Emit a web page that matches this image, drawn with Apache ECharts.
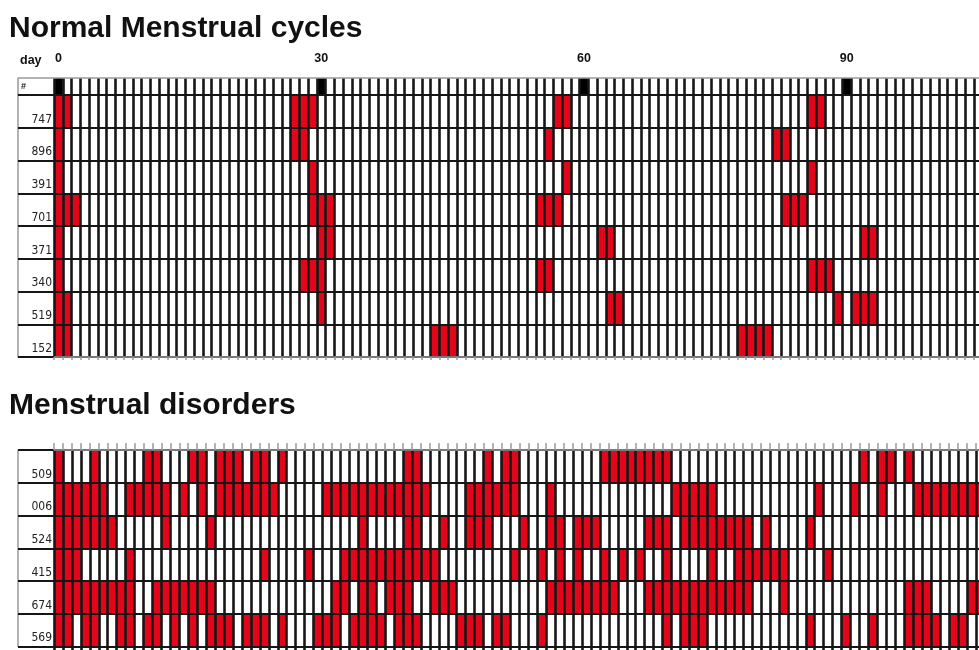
<!DOCTYPE html>
<html>
<head>
<meta charset="utf-8">
<script src="https://cdn.jsdelivr.net/npm/echarts@6/dist/echarts.min.js"></script>
<style>
  html, body { margin: 0; padding: 0; background: #fff; }
  #chart { width: 979px; height: 650px; }
</style>
</head>
<body>
<div id="chart"></div>
<script>
// Days shown on the horizontal axis and the labelled cycle days
const dayCount = 110;
const dayTicks = [0, 30, 60, 90];
const cycleMarkers = [0, 30, 60, 90];

// Normal menstrual cycles: bleeding days per subject
const normalIds = ['747', '896', '391', '701', '371', '340', '519', '152'];
const normal747 = [0, 1, 27, 28, 29, 57, 58, 86, 87];
const normal896 = [0, 27, 28, 56, 82, 83];
const normal391 = [0, 29, 58, 86];
const normal701 = [0, 1, 2, 29, 30, 31, 55, 56, 57, 83, 84, 85];
const normal371 = [0, 30, 31, 62, 63, 92, 93];
const normal340 = [0, 28, 29, 30, 55, 56, 86, 87, 88];
const normal519 = [0, 1, 30, 63, 64, 89, 91, 92, 93];
const normal152 = [0, 1, 43, 44, 45, 78, 79, 80, 81];
const normalDays = [normal747, normal896, normal391, normal701, normal371, normal340, normal519, normal152];

// Menstrual disorders: bleeding days per subject
const disorderIds = ['509', '006', '524', '415', '674', '569'];
const disorder509 = [0, 4, 10, 11, 15, 16, 18, 19, 20, 22, 23, 25, 39, 40, 48, 50, 51, 61, 62, 63, 64, 65, 66, 67, 68, 90, 92, 93, 95];
const disorder006 = [0, 1, 2, 3, 4, 5, 8, 9, 10, 11, 12, 14, 16, 18, 19, 20, 21, 22, 23, 24, 30, 31, 32, 33, 34, 35, 36, 37, 38, 39, 40, 41, 46, 47, 48, 49, 50, 51, 55, 69, 70, 71, 72, 73, 85, 89, 92, 96, 97, 98, 99, 100, 101, 102, 103];
const disorder524 = [0, 1, 2, 3, 4, 5, 6, 12, 17, 34, 39, 40, 43, 46, 47, 48, 52, 55, 56, 58, 59, 60, 66, 67, 68, 70, 71, 72, 73, 74, 75, 76, 77, 79, 84];
const disorder415 = [0, 1, 2, 8, 23, 28, 32, 33, 34, 35, 36, 37, 38, 39, 40, 41, 42, 51, 54, 56, 58, 61, 63, 65, 68, 73, 76, 77, 78, 79, 80, 81, 86];
const disorder674 = [0, 1, 2, 3, 4, 5, 6, 7, 8, 11, 12, 13, 14, 15, 16, 17, 31, 32, 34, 35, 37, 38, 39, 42, 43, 44, 55, 56, 57, 58, 59, 60, 61, 62, 66, 67, 68, 69, 70, 71, 72, 73, 74, 75, 76, 77, 81, 95, 96, 97, 102, 103];
const disorder569 = [0, 1, 3, 4, 7, 8, 10, 11, 13, 15, 17, 18, 19, 21, 22, 23, 25, 29, 30, 31, 33, 34, 35, 36, 38, 39, 40, 45, 46, 47, 49, 50, 54, 68, 70, 71, 72, 84, 88, 91, 95, 96, 97, 98, 100, 101];
const disorderDays = [disorder509, disorder006, disorder524, disorder415, disorder674, disorder569];

// Layout
const left = 54;
const upperCell = 8.76;
const lowerCell = 8.95;
const rowH = 32.75;
const upperTop = 95;
const headerTop = 78;
const lowerTop = 450;

const RED = '#E3061A';
const LINE = '#161616';
const GREY = '#9a9a9a';
const labelFont = "'Liberation Sans Narrow', 'DejaVu Sans Condensed', 'Arial Narrow', sans-serif";
const boldFont = "'Liberation Sans', Arial, Helvetica, sans-serif";

const dayCats = Array.from({ length: dayCount }, (_, i) => String(i));

function toCells(rows) {
  const out = [];
  rows.forEach((days, r) => days.forEach(d => out.push([d, r])));
  return out;
}

function renderCell(params, api) {
  const c = api.coord([api.value(0), api.value(1)]);
  const s = api.size([1, 1]);
  return {
    type: 'rect',
    shape: { x: c[0] - s[0] / 2, y: c[1] - s[1] / 2, width: s[0], height: s[1] },
    style: { fill: api.visual('color') }
  };
}

const vLines = { show: true, interval: 0, lineStyle: { color: LINE, width: 2.6 } };
const hLines = { show: true, interval: 0, lineStyle: { color: LINE, width: 2 } };

const chart = echarts.init(document.getElementById('chart'), null, { renderer: 'canvas' });

chart.setOption({
  animation: false,
  backgroundColor: '#fff',
  title: [
    { text: 'Normal Menstrual cycles', left: 4, top: 9,
      textStyle: { fontFamily: boldFont, fontWeight: 'bold', fontSize: 30, color: '#111' } },
    { text: 'Menstrual disorders', left: 4, top: 386,
      textStyle: { fontFamily: boldFont, fontWeight: 'bold', fontSize: 30, color: '#111' } },
    { text: 'day', left: 15, top: 49,
      textStyle: { fontFamily: boldFont, fontWeight: 'bold', fontSize: 12.5, color: '#111' } }
  ],
  grid: [
    { left: left, top: headerTop, width: dayCount * upperCell, height: upperTop - headerTop, outerBoundsMode: 'none' },
    { left: left, top: upperTop, width: dayCount * upperCell, height: normalIds.length * rowH, outerBoundsMode: 'none' },
    { left: left, top: lowerTop, width: dayCount * lowerCell, height: disorderIds.length * rowH, outerBoundsMode: 'none' }
  ],
  xAxis: [
    { gridIndex: 0, type: 'category', data: dayCats, position: 'top', z: 10,
      axisLine: { show: true, lineStyle: { color: GREY, width: 1.5 } },
      axisTick: { show: false },
      axisLabel: { show: true, interval: (i) => dayTicks.includes(i), margin: 13,
        fontFamily: boldFont, fontWeight: 'bold', fontSize: 12.5, color: '#111' },
      splitLine: vLines },
    { gridIndex: 1, type: 'category', data: dayCats, position: 'bottom', z: 10,
      axisLine: { show: true, lineStyle: { color: GREY, width: 1.5 } },
      axisTick: { show: true, interval: 0, length: 3, lineStyle: { color: GREY, width: 1.5 } },
      axisLabel: { show: false },
      splitLine: vLines },
    { gridIndex: 2, type: 'category', data: dayCats, position: 'top', z: 10,
      axisLine: { show: true, lineStyle: { color: GREY, width: 1.5 } },
      axisTick: { show: true, interval: 0, length: 7, lineStyle: { color: GREY, width: 1.5 } },
      axisLabel: { show: false },
      splitLine: vLines },
    { gridIndex: 2, type: 'category', data: dayCats, position: 'bottom', z: 10,
      axisLine: { show: false },
      axisTick: { show: true, interval: 0, length: 6, lineStyle: { color: LINE, width: 2.6 } },
      axisLabel: { show: false },
      splitLine: { show: false } }
  ],
  yAxis: [
    { gridIndex: 0, type: 'category', data: ['#'], inverse: true, z: 10,
      axisLine: { show: false },
      axisTick: { show: true, length: 36, lineStyle: { color: GREY, width: 1.5 } },
      axisLabel: { show: true, align: 'left', margin: 33, fontFamily: boldFont, fontWeight: 'bold', fontSize: 9, color: '#111' },
      splitLine: { show: false } },
    { gridIndex: 0, type: 'category', data: ['#'], position: 'left', offset: 36, z: 10,
      axisLine: { show: true, lineStyle: { color: GREY, width: 1.5 } },
      axisTick: { show: false }, axisLabel: { show: false }, splitLine: { show: false } },
    { gridIndex: 1, type: 'category', data: normalIds, inverse: true, z: 10,
      axisLine: { show: false },
      axisTick: { show: true, length: 36, lineStyle: { color: LINE, width: 2 } },
      axisLabel: { show: true, margin: 2, verticalAlign: 'top', padding: [2, 0, 0, 0],
        fontFamily: labelFont, fontSize: 12, color: '#222' },
      splitLine: hLines },
    { gridIndex: 1, type: 'category', data: normalIds, position: 'left', offset: 36, z: 10,
      axisLine: { show: true, lineStyle: { color: GREY, width: 1.5 } },
      axisTick: { show: false }, axisLabel: { show: false }, splitLine: { show: false } },
    { gridIndex: 2, type: 'category', data: disorderIds, inverse: true, z: 10,
      axisLine: { show: false },
      axisTick: { show: true, length: 36, lineStyle: { color: LINE, width: 2 } },
      axisLabel: { show: true, margin: 2, verticalAlign: 'top', padding: [2, 0, 0, 0],
        fontFamily: labelFont, fontSize: 12, color: '#222' },
      splitLine: hLines },
    { gridIndex: 2, type: 'category', data: disorderIds, position: 'left', offset: 36, z: 10,
      axisLine: { show: true, lineStyle: { color: GREY, width: 1.5 } },
      axisTick: { show: false }, axisLabel: { show: false }, splitLine: { show: false } }
  ],
  series: [
    { type: 'custom', name: 'cycle day', xAxisIndex: 0, yAxisIndex: 0, z: 1,
      itemStyle: { color: '#000' }, renderItem: renderCell,
      data: cycleMarkers.map(d => [d, 0]) },
    { type: 'custom', name: 'Normal Menstrual cycles', xAxisIndex: 1, yAxisIndex: 2, z: 1,
      itemStyle: { color: RED }, renderItem: renderCell,
      data: toCells(normalDays) },
    { type: 'custom', name: 'Menstrual disorders', xAxisIndex: 2, yAxisIndex: 4, z: 1,
      itemStyle: { color: RED }, renderItem: renderCell,
      data: toCells(disorderDays) }
  ]
});
</script>
</body>
</html>
